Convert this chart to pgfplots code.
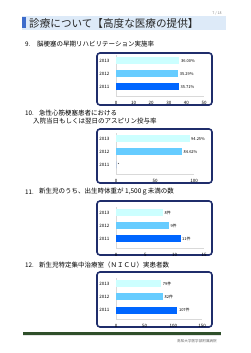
\documentclass[border=0pt]{standalone}
\usepackage{fontspec}
\setmainfont{Noto Sans CJK JP}
\usepackage{pgfplots}
\pgfplotsset{compat=1.18}
\definecolor{c13}{HTML}{CCFFFF}
\definecolor{c12}{HTML}{66CCFF}
\definecolor{c11}{HTML}{0066FF}
\definecolor{navy}{HTML}{1F2D6B}
\definecolor{barbg}{HTML}{DDEAF8}
\definecolor{markb}{HTML}{3D6CCB}
\definecolor{footg}{HTML}{2F4F2A}
\pgfplotsset{mychart/.style={
  xbar, scale only axis, height=41.6pt,
  ymin=-0.75, ymax=2.45, ytick={0,1,2}, yticklabels={2011,2012,2013},
  axis x line*=bottom, axis y line*=left,
  axis line style={draw=black!15, line width=0.6pt},
  major tick length=0pt,
  tick label style={font=\fontsize{4.5}{5}\selectfont},
  yticklabel style={xshift=-3pt},
  xticklabel style={yshift=-1pt},
  xmin=0, bar width=7pt,
  nodes near coords, point meta=explicit symbolic,
  nodes near coords style={font=\fontsize{4}{5}\selectfont, anchor=west, inner sep=1.5pt, text=black},
  every axis plot/.append style={draw=none, bar shift=0pt},
  /pgf/number format/assume math mode=true, clip=false}}
\newcommand{\fs}[1]{\fontsize{#1}{#1}\selectfont}
\begin{document}
\begin{tikzpicture}[x=1pt,y=1pt]
\path (0,0) rectangle (250,353);
% title bar
\fill[barbg] (22,353-30) rectangle (226,353-16);
\fill[markb] (22,353-28.5) rectangle (25.5,353-17.5);
\node[anchor=west, inner sep=0, text=black!85] at (29,353-23) {\fs{10.6}診療について【高度な医療の提供】};
\node[inner sep=0, text=black!50] at (217,353-13) {\fs{3.6}7 / 18};
% headings
\node[anchor=west, inner sep=0] at (25,353-44) {\fs{6.3}9.};
\node[anchor=west, inner sep=0] at (37,353-44) {\fs{6.5}脳梗塞の早期リハビリテーション実施率};
\node[anchor=west, inner sep=0] at (25,353-113) {\fs{6.3}10.};
\node[anchor=west, inner sep=0] at (39,353-113) {\fs{6.5}急性心筋梗塞患者における};
\node[anchor=west, inner sep=0] at (33,353-121) {\fs{6.5}入院当日もしくは翌日のアスピリン投与率};
\node[anchor=west, inner sep=0] at (25,353-192) {\fs{6.3}11.};
\node[anchor=west, inner sep=0] at (39,353-192) {\fs{6.5}新生児のうち、出生時体重が 1,500ｇ未満の数};
\node[anchor=west, inner sep=0] at (25,353-265) {\fs{6.3}12.};
\node[anchor=west, inner sep=0] at (39,353-265) {\fs{6.5}新生児特定集中治療室（ＮＩＣＵ）実患者数};
% boxes
\draw[navy, line width=1.6pt, rounded corners=3pt] (97,353-53) rectangle (212,353-105);
\draw[navy, line width=1.6pt, rounded corners=3pt] (97,353-129) rectangle (212,353-183);
\draw[navy, line width=1.6pt, rounded corners=3pt] (97,353-201) rectangle (212,353-255);
\draw[navy, line width=1.6pt, rounded corners=3pt] (97,353-272) rectangle (212,353-327);
% chart 9
\begin{axis}[mychart, at={(116pt,256.25pt)}, anchor=south west, width=88pt,
  xmax=50, xtick={0,10,20,30,40,50}]
\addplot[fill=c13] coordinates {(36.00,2) [36.00\%]};
\addplot[fill=c12] coordinates {(35.29,1) [35.29\%]};
\addplot[fill=c11] coordinates {(35.71,0) [35.71\%]};
\end{axis}
% chart 10
\begin{axis}[mychart, at={(116pt,178.25pt)}, anchor=south west, width=78pt,
  xmax=100, xtick={0,50,100}]
\addplot[fill=c13] coordinates {(94.25,2) [94.25\%]};
\addplot[fill=c12] coordinates {(84.62,1) [84.62\%]};
\addplot[fill=c11] coordinates {(0,0) [*]};
\end{axis}
% chart 11
\begin{axis}[mychart, at={(116pt,104.25pt)}, anchor=south west, width=88pt,
  xmax=15, xtick={0,5,10,15}]
\addplot[fill=c13] coordinates {(8,2) [8件]};
\addplot[fill=c12] coordinates {(9,1) [9件]};
\addplot[fill=c11] coordinates {(11,0) [11件]};
\end{axis}
% chart 12
\begin{axis}[mychart, at={(116pt,33.25pt)}, anchor=south west, width=86pt,
  xmax=150, xtick={0,50,100,150}]
\addplot[fill=c13] coordinates {(79,2) [79件]};
\addplot[fill=c12] coordinates {(82,1) [82件]};
\addplot[fill=c11] coordinates {(107,0) [107件]};
\end{axis}
% footer
\fill[black!10] (23,353-336.5) rectangle (221,353-335.5);
\fill[footg] (23,353-335.5) rectangle (221,353-332.5);
\node[anchor=east, inner sep=0, text=black!60] at (217,353-341) {\fs{3.6}高知大学医学部附属病院};
\end{tikzpicture}
\end{document}
